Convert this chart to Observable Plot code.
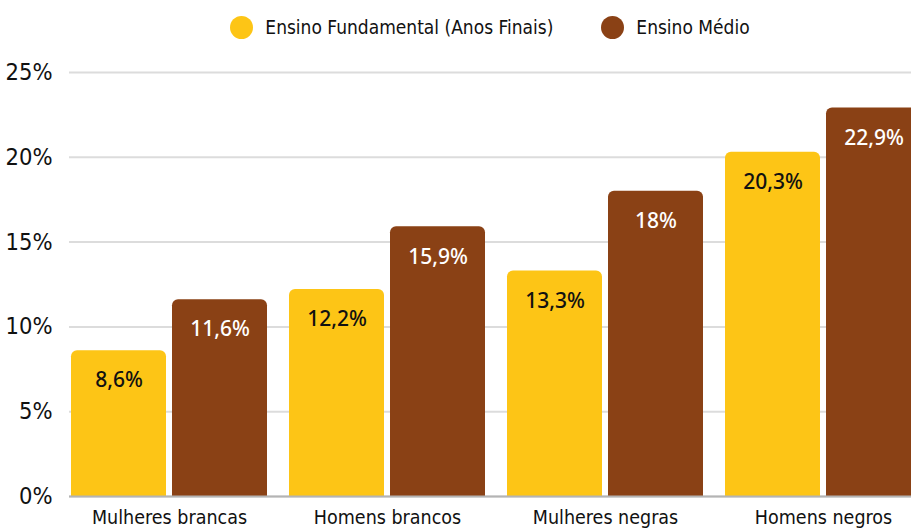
<!DOCTYPE html>
<html>
<head>
<meta charset="utf-8">
<script src="https://cdn.jsdelivr.net/npm/d3@7"></script>
<script src="https://cdn.jsdelivr.net/npm/@observablehq/plot@0.6"></script>
<style>
  html, body { margin: 0; padding: 0; background: #fff; overflow: hidden; width: 911px; height: 531px; }
  #legend { height: 54px; box-sizing: border-box; padding-left: 69px; display: flex; align-items: center; justify-content: center;
    font-family: "DejaVu Sans Condensed", "Liberation Sans Narrow", sans-serif; font-stretch: condensed; font-size: 19px; color: #111; }
  .item { display: flex; align-items: center; margin: 0 24px; }
  .dot { width: 23px; height: 23px; border-radius: 50%; margin-right: 12px; }
</style>
</head>
<body>
<div id="legend"></div>
<div id="chart"></div>
<script>
const categories = ["Mulheres brancas", "Homens brancos", "Mulheres negras", "Homens negros"];
const seriesNames = ["Ensino Fundamental (Anos Finais)", "Ensino Médio"];
const fundamental = [8.6, 12.2, 13.3, 20.3];
const medio = [11.6, 15.9, 18, 22.9];
const yTicks = [0, 5, 10, 15, 20, 25];
const colors = ["#FDC516", "#8A4115"];

const fmt = v => String(v).replace(".", ",") + "%";
const fundData = categories.map((c, i) => ({cat: c, value: fundamental[i]}));
const medData = categories.map((c, i) => ({cat: c, value: medio[i]}));

const legend = document.getElementById("legend");
seriesNames.forEach((n, i) => {
  const it = document.createElement("div");
  it.className = "item";
  it.innerHTML = `<span class="dot" style="background:${colors[i]}"></span><span>${n}</span>`;
  legend.appendChild(it);
});

const font = "'DejaVu Sans Condensed', 'Liberation Sans Narrow', sans-serif";
const chart = Plot.plot({
  width: 911,
  height: 477,
  marginLeft: 69,
  marginRight: 0,
  marginTop: 18,
  marginBottom: 35,
  style: {fontFamily: font, background: "white", overflow: "hidden", color: "#111"},
  x: {domain: categories, range: [69, 923], paddingInner: 0.1, paddingOuter: 0, label: null},
  y: {domain: [0, 25], label: null},
  marks: [
    Plot.gridY(yTicks, {stroke: "#dcdcdc", strokeOpacity: 1, strokeWidth: 2}),
    Plot.barY(fundData, {x: "cat", y: "value", fill: colors[0], insetRight: 101, insetBottom: -8, rx: 6, clip: true}),
    Plot.barY(medData, {x: "cat", y: "value", fill: colors[1], insetLeft: 101, insetBottom: -8, rx: 6, clip: true}),
    Plot.ruleY([0], {stroke: "#b4b4b4", strokeWidth: 2}),
    Plot.text(fundData, {x: "cat", y: "value", text: d => fmt(d.value), dx: -50.5, dy: 30, fill: "#111", fontSize: 21, fontFamily: "'Noto Sans', sans-serif", fontWeight: 500}),
    Plot.text(medData, {x: "cat", y: "value", text: d => fmt(d.value), dx: 50.5, dy: 30, fill: "white", fontSize: 21, fontFamily: "'Noto Sans', sans-serif", fontWeight: 500, clip: true}),
    Plot.axisY(yTicks, {tickFormat: d => d + "%", tickSize: 0, tickPadding: 17, fontSize: 23.5, fill: "#111", fontFamily: font}),
    Plot.axisX({tickSize: 0, tickPadding: 14, fontSize: 19.5, fill: "#111", fontFamily: font})
  ]
});
document.getElementById("chart").appendChild(chart);
</script>
</body>
</html>
